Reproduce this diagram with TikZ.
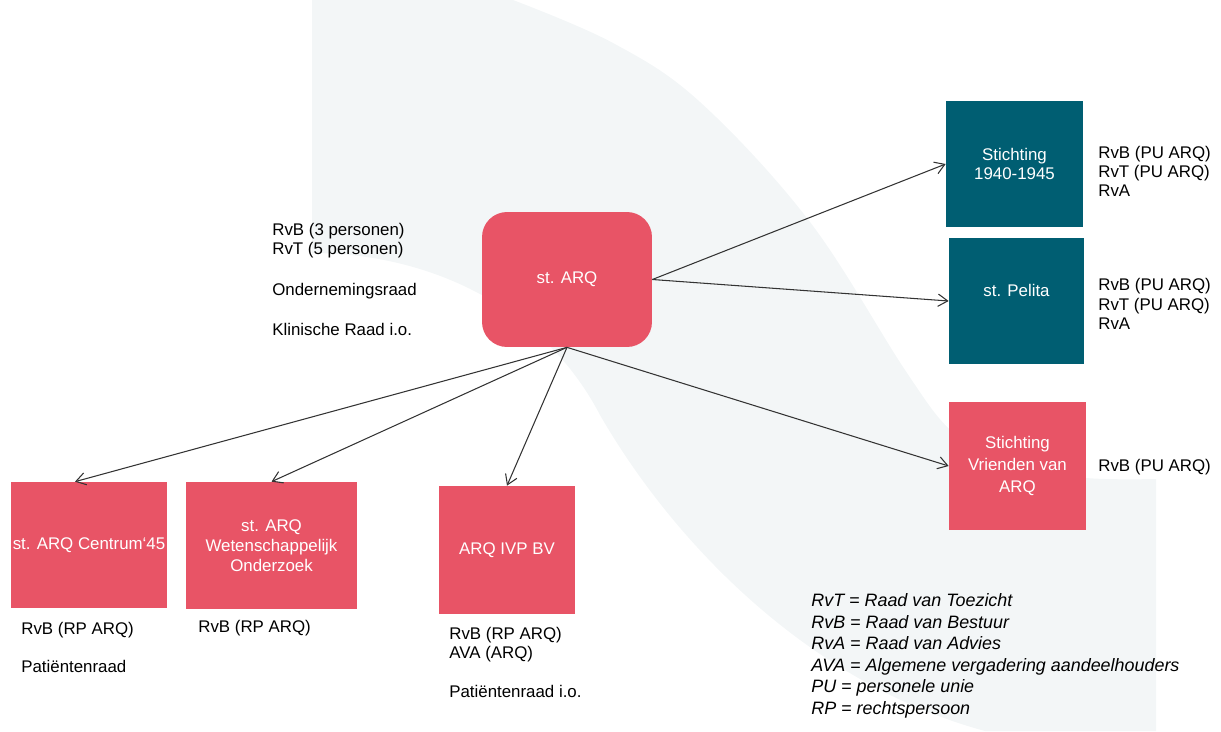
\documentclass[tikz,border=0pt]{standalone}
\usepackage{fontspec}
\setmainfont{Liberation Sans}
\usetikzlibrary{arrows.meta,calc}
\definecolor{arqred}{HTML}{E85466}
\definecolor{arqteal}{HTML}{005E72}
\definecolor{bgshape}{HTML}{F3F6F7}
\definecolor{linegray}{HTML}{333333}
\begin{document}
\begin{tikzpicture}[x=0.02cm,y=-0.02cm,
  box/.style={fill=arqred, draw=none, text=white, align=center, inner sep=0pt, font=\fontsize{9.6}{11.3}\selectfont},
  tealbox/.style={box, fill=arqteal},
  boxlabel/.style={text=white, inner sep=0pt, font=\fontsize{9.6}{11.3}\selectfont},
  info/.style={anchor=west, align=left, inner sep=0pt, text=black, font=\fontsize{9.6}{11}\selectfont},
  legendtext/.style={info, font=\fontsize{10.2}{12.25}\selectfont\itshape},
  conn/.style={draw=linegray, line width=0.6pt, -{Straight Barb[length=5.5pt,width=7pt]}},
]
\useasboundingbox (0,0) rectangle (1221,731);
\fill[bgshape] (312,0) -- plot[smooth,tension=0.6] coordinates {(513,0) (613,43) (700,102) (810,222) (905,370) (950,430) (1000,466) (1086,478) (1156,479)}
  -- (1156,731) -- (985,731)
  .. controls (811,684) and (675,545) .. (600,415)
  .. controls (540,300) and (420,253) .. (312,253) -- cycle;

\node[box, rounded corners=0.5cm, minimum width=3.4cm, minimum height=2.7cm] (arq) at (567,279.5) {st. ARQ};
\node[tealbox, minimum width=2.74cm, minimum height=2.52cm] (s4045) at (1014.5,164) {Stichting\\1940-1945};
\node[tealbox, minimum width=2.7cm, minimum height=2.52cm, label={[boxlabel, yshift=0.22cm]center:st. Pelita}] (pelita) at (1016.5,301) {};
\node[box, minimum width=2.74cm, minimum height=2.56cm, font=\fontsize{9.6}{12.7}\selectfont] (vrienden) at (1017.5,466) {Stichting\\Vrienden van\\ARQ};
\node[box, minimum width=3.12cm, minimum height=2.52cm] (centrum) at (89,545) {st. ARQ Centrum‘45};
\node[box, minimum width=3.42cm, minimum height=2.54cm] (wet) at (271.5,545.5) {st. ARQ\\Wetenschappelijk\\Onderzoek};
\node[box, minimum width=2.72cm, minimum height=2.56cm] (ivp) at (507,550) {ARQ IVP BV};

\node[info] (arqinfo) at (272,279.5) {RvB (3 personen)\\RvT (5 personen)\\[12.6pt]Ondernemingsraad\\[11.7pt]Klinische Raad i.o.};
\node[info] (s4045info) at (1098,171.5) {RvB (PU ARQ)\\RvT (PU ARQ)\\RvA};
\node[info] (pelitainfo) at (1098,304) {RvB (PU ARQ)\\RvT (PU ARQ)\\RvA};
\node[info] (vriendeninfo) at (1098,467) {RvB (PU ARQ)};
\node[info] (centruminfo) at (21,647.5) {RvB (RP ARQ)\\[11pt]Patiëntenraad};
\node[info] (wetinfo) at (198,628) {RvB (RP ARQ)};
\node[info] (ivpinfo) at (449,662) {RvB (RP ARQ)\\AVA (ARQ)\\[11pt]Patiëntenraad i.o.};
\node[legendtext] (legend) at (811,656) {RvT = Raad van Toezicht\\RvB = Raad van Bestuur\\RvA = Raad van Advies\\AVA = Algemene vergadering aandeelhouders\\PU = personele unie\\RP = rechtspersoon};

\draw[conn] (arq.east) -- (s4045.west);
\draw[conn] (arq.east) -- (pelita.west);
\draw[conn] (arq.south) -- (vrienden.west);
\draw[conn] (arq.south) -- ($(centrum.north)+(-14,0)$);
\draw[conn] (arq.south) -- (wet.north);
\draw[conn] (arq.south) -- (ivp.north);
\end{tikzpicture}
\end{document}
